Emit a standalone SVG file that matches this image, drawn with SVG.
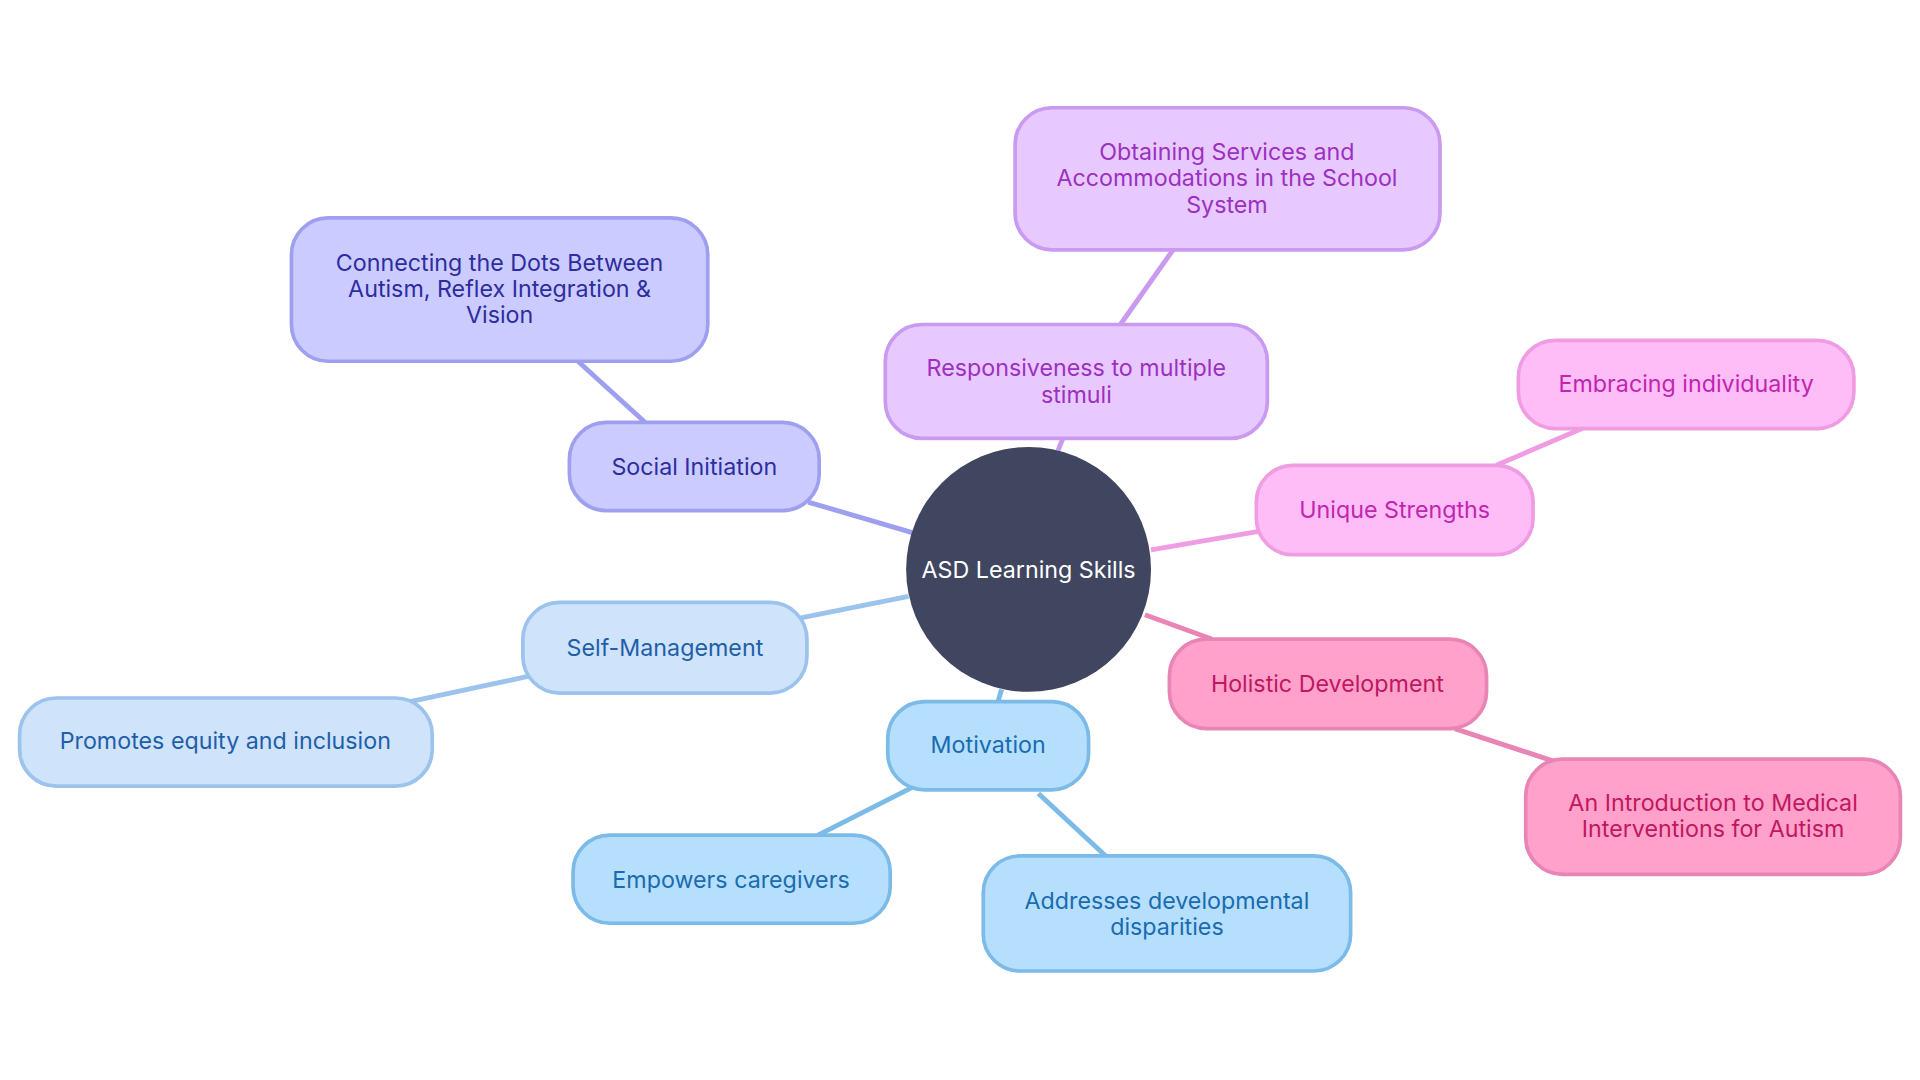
<svg xmlns="http://www.w3.org/2000/svg" width="1920" height="1080" viewBox="0 0 1920 1080">
<style>
text{font-family:Inter,"Open Sans","Liberation Sans",sans-serif;font-size:19px;text-anchor:middle;dominant-baseline:central}
rect{stroke-width:3}
line{stroke-width:4}
.a rect{fill:#cbcbff;stroke:#9f9fef}.a text{fill:#2d2da0}
.b rect{fill:#cfe3fb;stroke:#9cc3ec}.b text{fill:#1f5fa8}
.c rect{fill:#b5dffd;stroke:#7cbbe8}.c text{fill:#1a6bb0}
.d rect{fill:#e8c9ff;stroke:#c99af0}.d text{fill:#9c30c0}
.e rect{fill:#ffbdf7;stroke:#f09ce3}.e text{fill:#c026b0}
.f rect{fill:#ffa1cb;stroke:#e985b4}.f text{fill:#c0185f}
</style>
<rect width="1920" height="1080" fill="#fff"/>
<g transform="scale(1.2245)">
<g id="connectors">
<line x1="660" y1="410" x2="745" y2="435" stroke="#9f9fef"/>
<line x1="472" y1="295" x2="527" y2="345" stroke="#9f9fef"/>
<line x1="652" y1="505" x2="742" y2="487" stroke="#9cc3ec"/>
<line x1="335" y1="573" x2="433" y2="552" stroke="#9cc3ec"/>
<line x1="818" y1="563" x2="815" y2="573" stroke="#7cbbe8"/>
<line x1="745" y1="643" x2="668" y2="682" stroke="#7cbbe8"/>
<line x1="848" y1="648" x2="903" y2="699" stroke="#7cbbe8"/>
<line x1="868" y1="358" x2="864" y2="368" stroke="#c99af0"/>
<line x1="958" y1="204" x2="915" y2="265" stroke="#c99af0"/>
<line x1="940" y1="449" x2="1028" y2="434" stroke="#f09ce3"/>
<line x1="1222" y1="380" x2="1292" y2="350" stroke="#f09ce3"/>
<line x1="935" y1="502" x2="990" y2="522" stroke="#e985b4"/>
<line x1="1188" y1="595" x2="1270" y2="622" stroke="#e985b4"/>
</g>
<g id="root"><circle cx="840" cy="465" r="100" fill="#404660"/><text x="840" y="465" fill="#fff">ASD Learning Skills</text></g>
<g id="social" class="a"><rect x="465" y="345" width="204" height="72" rx="30"/><text x="567" y="381">Social Initiation</text></g>
<g id="dots" class="a"><rect x="238" y="178" width="340" height="117" rx="30"/><text x="408" y="214">Connecting the Dots Between</text><text x="408" y="236">Autism, Reflex Integration &amp;</text><text x="408" y="257">Vision</text></g>
<g id="selfmgmt" class="b"><rect x="427" y="492" width="232" height="74" rx="30"/><text x="543" y="529">Self-Management</text></g>
<g id="equity" class="b"><rect x="16" y="570" width="337" height="72" rx="30"/><text x="184" y="605">Promotes equity and inclusion</text></g>
<g id="motivation" class="c"><rect x="725" y="573" width="164" height="72" rx="30"/><text x="807" y="608">Motivation</text></g>
<g id="empowers" class="c"><rect x="468" y="682" width="259" height="72" rx="30"/><text x="597" y="718">Empowers caregivers</text></g>
<g id="addresses" class="c"><rect x="803" y="699" width="300" height="94" rx="30"/><text x="953" y="735">Addresses developmental</text><text x="953" y="757">disparities</text></g>
<g id="respons" class="d"><rect x="723" y="265" width="312" height="93" rx="30"/><text x="879" y="300">Responsiveness to multiple</text><text x="879" y="322">stimuli</text></g>
<g id="obtaining" class="d"><rect x="829" y="88" width="347" height="116" rx="30"/><text x="1002" y="124">Obtaining Services and</text><text x="1002" y="145">Accommodations in the School</text><text x="1002" y="167">System</text></g>
<g id="unique" class="e"><rect x="1026" y="380" width="226" height="73" rx="30"/><text x="1139" y="416">Unique Strengths</text></g>
<g id="embracing" class="e"><rect x="1240" y="278" width="274" height="72" rx="30"/><text x="1377" y="313">Embracing individuality</text></g>
<g id="holistic" class="f"><rect x="955" y="522" width="259" height="73" rx="30"/><text x="1084" y="558">Holistic Development</text></g>
<g id="intro" class="f"><rect x="1246" y="620" width="306" height="94" rx="30"/><text x="1399" y="655">An Introduction to Medical</text><text x="1399" y="677">Interventions for Autism</text></g>
</g>
</svg>
